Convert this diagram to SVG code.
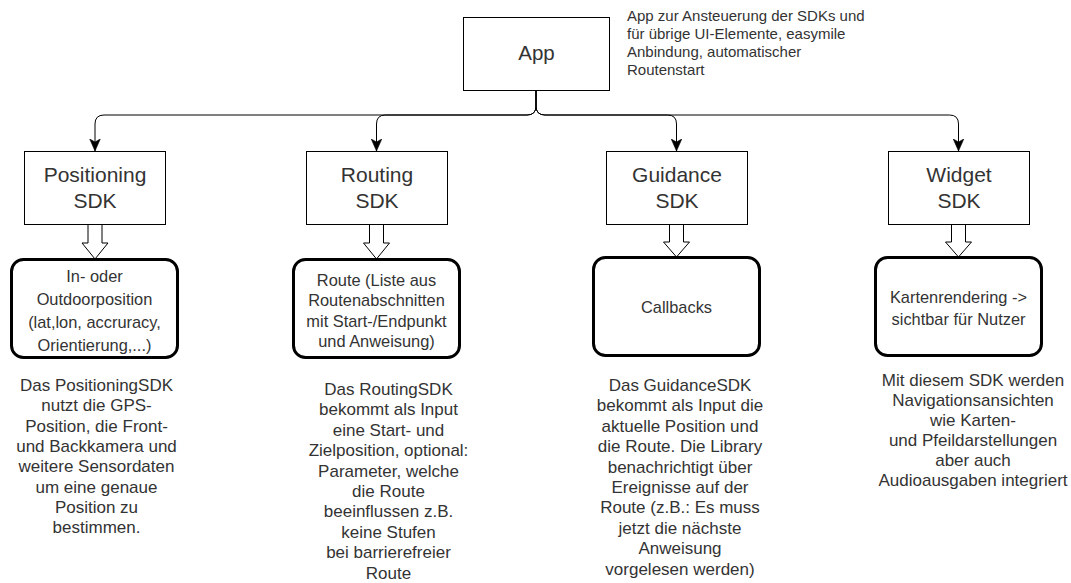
<svg xmlns="http://www.w3.org/2000/svg" width="1071" height="583" viewBox="0 0 1071 583">
<defs>
<style>
.box{fill:#fff;stroke:#000;stroke-width:1}
.rbox{fill:#fff;stroke:#000;stroke-width:3}
.edge{fill:none;stroke:#000;stroke-width:1}
.block{fill:#fff;stroke:#000;stroke-width:1;stroke-linejoin:miter}
text{font-family:"Liberation Sans",Arial,sans-serif;fill:#333}
.lbl{font-size:21px;text-anchor:middle}
.app{font-size:20.5px;text-anchor:middle}
.desc{font-size:15px}
.inner{font-size:16.4px;text-anchor:middle}
.note{font-size:17px;text-anchor:middle}
</style>
<marker id="arr" markerUnits="userSpaceOnUse" markerWidth="12" markerHeight="12" viewBox="0 0 10 10" refX="10" refY="5" orient="auto">
<path d="M0,0.6 L10,5 L0,9.4 L2.5,5 Z" fill="#000" stroke="#000" stroke-width="0.5"/>
</marker>
</defs>
<rect width="1071" height="583" fill="#fff"/>

<g id="connectors">
<path class="edge" marker-end="url(#arr)" d="M536,90 V106 Q536,115 527,115 H104 Q95,115 95,124 V151"/>
<path class="edge" marker-end="url(#arr)" d="M536,90 V106 Q536,115 527,115 H385.5 Q376.5,115 376.5,124 V151"/>
<path class="edge" marker-end="url(#arr)" d="M536,90 V106 Q536,115 545,115 H667.5 Q676.5,115 676.5,124 V151"/>
<path class="edge" marker-end="url(#arr)" d="M536,90 V106 Q536,115 545,115 H949.5 Q958.5,115 958.5,124 V151"/>
<polygon class="block" points="88,224 88,243 82,243 95,259 108,243 102,243 102,224"/>
<polygon class="block" points="369.5,224 369.5,243 363.5,243 376.5,259 389.5,243 383.5,243 383.5,224"/>
<polygon class="block" points="669.5,224 669.5,242 663.5,242 676.5,257 689.5,242 683.5,242 683.5,224"/>
<polygon class="block" points="951.5,224 951.5,242 945.5,242 958.5,257 971.5,242 965.5,242 965.5,224"/>
</g>

<g id="app">
<rect class="box" x="463.5" y="17.5" width="146" height="73"/>
<text class="app" x="536.5" y="60">App</text>
</g>
<g id="app-note">
<text class="desc" x="627" y="20.5">App zur Ansteuerung der SDKs und</text>
<text class="desc" x="627" y="38.8">für übrige UI-Elemente, easymile</text>
<text class="desc" x="627" y="57.1">Anbindung, automatischer</text>
<text class="desc" x="627" y="75.4">Routenstart</text>
</g>

<g id="positioning-sdk">
<rect class="box" x="24.5" y="151.5" width="141" height="73"/>
<text class="lbl" x="95" y="181.5">Positioning</text>
<text class="lbl" x="95" y="208">SDK</text>
</g>
<g id="routing-sdk">
<rect class="box" x="306.5" y="151.5" width="141" height="73"/>
<text class="lbl" x="377" y="181.5">Routing</text>
<text class="lbl" x="377" y="208">SDK</text>
</g>
<g id="guidance-sdk">
<rect class="box" x="606.5" y="151.5" width="141" height="73"/>
<text class="lbl" x="677" y="181.5">Guidance</text>
<text class="lbl" x="677" y="208">SDK</text>
</g>
<g id="widget-sdk">
<rect class="box" x="888.5" y="151.5" width="141" height="73"/>
<text class="lbl" x="959" y="181.5">Widget</text>
<text class="lbl" x="959" y="208">SDK</text>
</g>

<g id="positioning-output">
<rect class="rbox" x="11.5" y="259.5" width="166" height="98" rx="12" ry="12"/>
<text class="inner" x="94.5" y="281.5">In- oder</text>
<text class="inner" x="94.5" y="304.8">Outdoorposition</text>
<text class="inner" x="94.5" y="328.1">(lat,lon, accruracy,</text>
<text class="inner" x="94.5" y="351.4">Orientierung,...)</text>
</g>
<g id="routing-output">
<rect class="rbox" x="293.5" y="259.5" width="166" height="98" rx="12" ry="12"/>
<text class="inner" x="376.5" y="285.7">Route (Liste aus</text>
<text class="inner" x="376.5" y="306.2">Routenabschnitten</text>
<text class="inner" x="376.5" y="326.7">mit Start-/Endpunkt</text>
<text class="inner" x="376.5" y="347.2">und Anweisung)</text>
</g>
<g id="guidance-output">
<rect class="rbox" x="593.5" y="257.5" width="166" height="98" rx="12" ry="12"/>
<text class="inner" x="676.5" y="312.5">Callbacks</text>
</g>
<g id="widget-output">
<rect class="rbox" x="875.5" y="257.5" width="166" height="98" rx="12" ry="12"/>
<text class="inner" x="958.5" y="303">Kartenrendering -&gt;</text>
<text class="inner" x="958.5" y="325">sichtbar für Nutzer</text>
</g>

<g id="positioning-note">
<text class="note" x="96.5" y="391">Das PositioningSDK</text>
<text class="note" x="96.5" y="411.3">nutzt die GPS-</text>
<text class="note" x="96.5" y="431.6">Position, die Front-</text>
<text class="note" x="96.5" y="451.9">und Backkamera und</text>
<text class="note" x="96.5" y="472.2">weitere Sensordaten</text>
<text class="note" x="96.5" y="492.5">um eine genaue</text>
<text class="note" x="96.5" y="512.8">Position zu</text>
<text class="note" x="96.5" y="533.1">bestimmen.</text>
</g>
<g id="routing-note">
<text class="note" x="388.5" y="395">Das RoutingSDK</text>
<text class="note" x="388.5" y="415.4">bekommt als Input</text>
<text class="note" x="388.5" y="435.8">eine Start- und</text>
<text class="note" x="388.5" y="456.2">Zielposition, optional:</text>
<text class="note" x="388.5" y="476.6">Parameter, welche</text>
<text class="note" x="388.5" y="497">die Route</text>
<text class="note" x="388.5" y="517.4">beeinflussen z.B.</text>
<text class="note" x="388.5" y="537.8">keine Stufen</text>
<text class="note" x="388.5" y="558.2">bei barrierefreier</text>
<text class="note" x="388.5" y="578.6">Route</text>
</g>
<g id="guidance-note">
<text class="note" x="680" y="391">Das GuidanceSDK</text>
<text class="note" x="680" y="411.4">bekommt als Input die</text>
<text class="note" x="680" y="431.8">aktuelle Position und</text>
<text class="note" x="680" y="452.2">die Route. Die Library</text>
<text class="note" x="680" y="472.6">benachrichtigt über</text>
<text class="note" x="680" y="493">Ereignisse auf der</text>
<text class="note" x="680" y="513.4">Route (z.B.: Es muss</text>
<text class="note" x="680" y="533.8">jetzt die nächste</text>
<text class="note" x="680" y="554.2">Anweisung</text>
<text class="note" x="680" y="574.6">vorgelesen werden)</text>
</g>
<g id="widget-note">
<text class="note" x="973" y="386">Mit diesem SDK werden</text>
<text class="note" x="973" y="406">Navigationsansichten</text>
<text class="note" x="973" y="426">wie Karten-</text>
<text class="note" x="973" y="446">und Pfeildarstellungen</text>
<text class="note" x="973" y="466">aber auch</text>
<text class="note" x="973" y="486">Audioausgaben integriert</text>
</g>
</svg>
